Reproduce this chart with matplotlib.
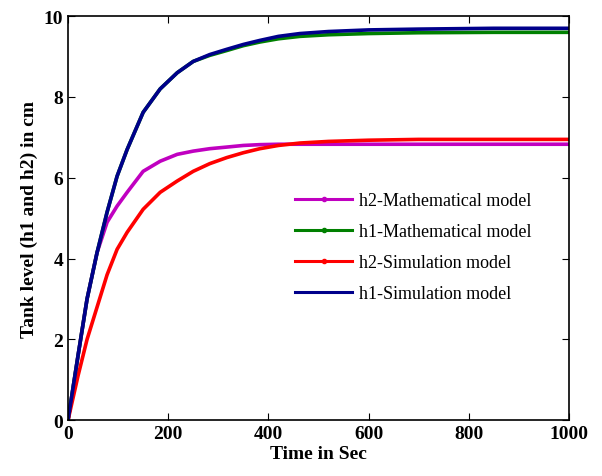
import matplotlib.pyplot as plt
from matplotlib.lines import Line2D

# time axis (s) and tank levels (cm)
t = [0, 10, 20, 38, 58, 78, 98, 118, 150, 184, 218, 250, 283, 317, 350, 383, 420, 463, 520, 600, 700, 850, 1000]
h1_sim = [0, 0.8, 1.6, 3.0, 4.15, 5.15, 6.04, 6.7, 7.62, 8.2, 8.6, 8.88, 9.05, 9.18, 9.3, 9.4, 9.5, 9.57, 9.62, 9.66, 9.68, 9.7, 9.7]
h1_math = [0, 0.8, 1.6, 3.0, 4.15, 5.15, 6.04, 6.7, 7.62, 8.2, 8.6, 8.88, 9.03, 9.15, 9.27, 9.36, 9.44, 9.5, 9.54, 9.57, 9.59, 9.6, 9.6]
h2_math = [0, 0.8, 1.6, 3.0, 4.15, 4.9, 5.3, 5.64, 6.16, 6.41, 6.58, 6.66, 6.72, 6.76, 6.8, 6.82, 6.83, 6.83, 6.83, 6.83, 6.83, 6.83, 6.83]
h2_sim = [0, 0.55, 1.1, 2.0, 2.8, 3.6, 4.23, 4.65, 5.22, 5.64, 5.92, 6.16, 6.35, 6.5, 6.62, 6.72, 6.8, 6.86, 6.9, 6.93, 6.95, 6.95, 6.95]

labels = ['h2-Mathematical model', 'h1-Mathematical model', 'h2-Simulation model', 'h1-Simulation model']
colors = ['#c000c0', '#008000', '#ff0000', '#00008b']

plt.rcParams['font.family'] = ['Liberation Serif', 'DejaVu Serif']

fig = plt.figure(figsize=(6.02, 4.77), dpi=100)
ax = fig.add_axes([0.113, 0.117, 0.832, 0.847])

for y, c in zip([h2_math, h1_math, h2_sim, h1_sim], colors):
    ax.plot(t, y, color=c, linewidth=2.6)

ax.set_xlim(0, 1000)
ax.set_ylim(0, 10)
ax.set_xticks([0, 200, 400, 600, 800, 1000])
ax.set_yticks([0, 2, 4, 6, 8, 10])
ax.tick_params(direction='in', top=True, right=True, length=5, labelsize=14)
for lab in ax.get_xticklabels() + ax.get_yticklabels():
    lab.set_fontweight('bold')
for s in ax.spines.values():
    s.set_linewidth(1.2)

ax.set_xlabel('Time in Sec', fontsize=14, fontweight='bold', labelpad=2)
ax.set_ylabel('Tank level (h1 and h2) in cm', fontsize=14, fontweight='bold', labelpad=4)

handles = [
    Line2D([], [], color=colors[0], linewidth=2.2, marker='.', markersize=6),
    Line2D([], [], color=colors[1], linewidth=2.2, marker='.', markersize=6),
    Line2D([], [], color=colors[2], linewidth=2.2, marker='.', markersize=6),
    Line2D([], [], color=colors[3], linewidth=2.2),
]
ax.legend(handles, labels, loc='upper left', bbox_to_anchor=(0.42, 0.605), frameon=False,
          fontsize=13, numpoints=1, handlelength=3.2, handletextpad=0.35, labelspacing=0.78)

plt.savefig('out.png', dpi=100)
